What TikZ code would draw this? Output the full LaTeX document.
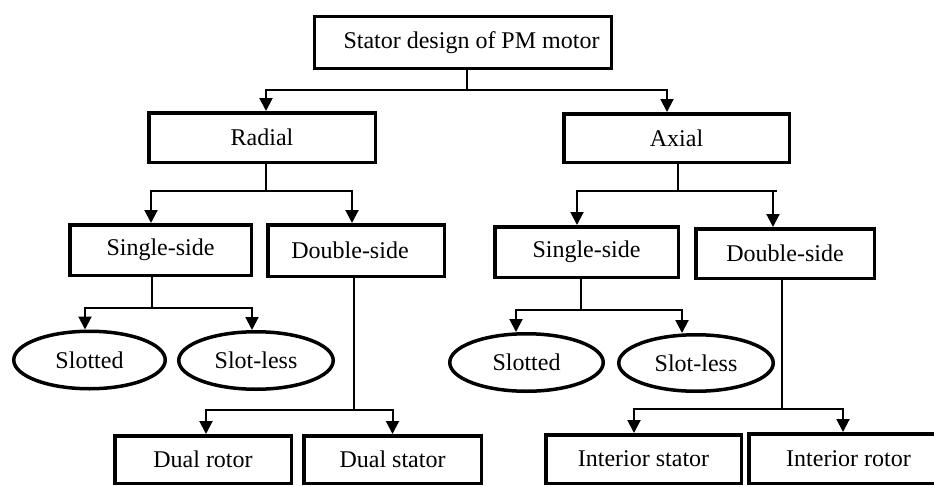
\documentclass[tikz,border=0pt]{standalone}
\usepackage{fontspec}
\setmainfont{Liberation Serif}
\usetikzlibrary{arrows.meta,shapes.geometric}
\tikzset{
  box/.style={draw, line width=3.5pt, inner sep=0pt, font=\fontsize{24}{28}\selectfont},
  oval/.style={draw, ellipse, line width=3.5pt, inner sep=0pt, font=\fontsize{24}{28}\selectfont},
  conn/.style={line width=2pt},
  arr/.style={line width=2pt, -{Triangle[width=13pt,length=13pt]}},
}
\begin{document}
\begin{tikzpicture}[x=1pt,y=-1pt]
\clip (0,0) rectangle (934,487);
\fill[white] (0,0) rectangle (934,487);
% nodes (centers in px, y downwards)
\node[box, line width=3pt, minimum width=297pt, minimum height=52pt] (top) at (463,42.5) {\hspace{17pt}Stator design of PM motor};
\node[box, minimum width=226.5pt, minimum height=49.5pt] (radial) at (262,137.5) {Radial};
\node[box, minimum width=225.5pt, minimum height=48.5pt] (axial) at (676.5,138) {Axial};
\node[box, minimum width=181.5pt, minimum height=50.5pt] (ss1) at (160.5,250) {Single-side};
\node[box, minimum width=176.5pt, minimum height=51.5pt] (ds1) at (356,250.5) {\hspace{-12pt}Double-side};
\node[box, minimum width=183.5pt, minimum height=50.5pt] (ss2) at (586.5,252) {Single-side};
\node[box, minimum width=178.5pt, minimum height=49.5pt] (ds2) at (785,253.5) {Double-side};
\node[oval, minimum width=151.5pt, minimum height=57.5pt] (sl1) at (89.5,360) {Slotted};
\node[oval, minimum width=154.5pt, minimum height=57.5pt] (sll1) at (256,360.5) {Slot-less};
\node[oval, minimum width=153.5pt, minimum height=57.5pt] (sl2) at (526.5,362.5) {Slotted};
\node[oval, minimum width=154.5pt, minimum height=56.5pt] (sll2) at (696,363) {Slot-less};
\node[box, minimum width=176.5pt, minimum height=47.5pt] (dr) at (203,459.5) {Dual rotor};
\node[box, minimum width=177.5pt, minimum height=47.5pt] (dst) at (392.5,459.5) {Dual stator};
\node[box, minimum width=195.5pt, minimum height=48.5pt] (is) at (643.5,459) {Interior stator};
\node[box, minimum width=199.5pt, minimum height=49.5pt] (ir) at (848.5,458.5) {Interior rotor};
% junction points
\coordinate (j0) at (466.7,90);
\coordinate (j1) at (266,190.7);
\coordinate (j2) at (678,190.7);
\coordinate (j3) at (152,307.5);
\coordinate (j4) at (353.5,410);
\coordinate (j5) at (581,310);
\coordinate (j6) at (782,409);
% connectors
\draw[conn] (top.south -| j0) -- (j0);
\draw[arr] (j0) -| ([xshift=4pt]radial.north);
\draw[arr] (j0) -| ([xshift=-9.5pt]axial.north);
\draw[conn] (radial.south -| j1) -- (j1);
\draw[arr] (j1) -| ([xshift=-9.5pt]ss1.north);
\draw[arr] (j1) -| ([xshift=-4pt]ds1.north);
\draw[conn] (axial.south -| j2) -- (j2);
\draw[arr] (j2) -| ([xshift=-9.5pt]ss2.north);
\draw[arr] (j2) -| ([xshift=-12pt]ds2.north);
\draw[conn] (j2) -- ([xshift=-8pt]j2 -| ds2.north);
\draw[conn] (ss1.south -| j3) -- (j3);
\draw[arr] (j3) -| ([xshift=-4.5pt]sl1.north);
\draw[arr] (j3) -| ([xshift=-4pt]sll1.north);
\draw[conn] (ds1.south -| j4) -- (j4);
\draw[arr] (j4) -| ([xshift=3pt]dr.north);
\draw[arr] (j4) -| (dst.north);
\draw[conn] (ss2.south -| j5) -- (j5);
\draw[arr] (j5) -| ([xshift=-10.5pt]sl2.north);
\draw[arr] (j5) -| ([xshift=-14pt]sll2.north);
\draw[conn] (ds2.south -| j6) -- (j6);
\draw[arr] (j6) -| ([xshift=-9.5pt]is.north);
\draw[arr] (j6) -| ([xshift=-5.5pt]ir.north);
\end{tikzpicture}
\end{document}
